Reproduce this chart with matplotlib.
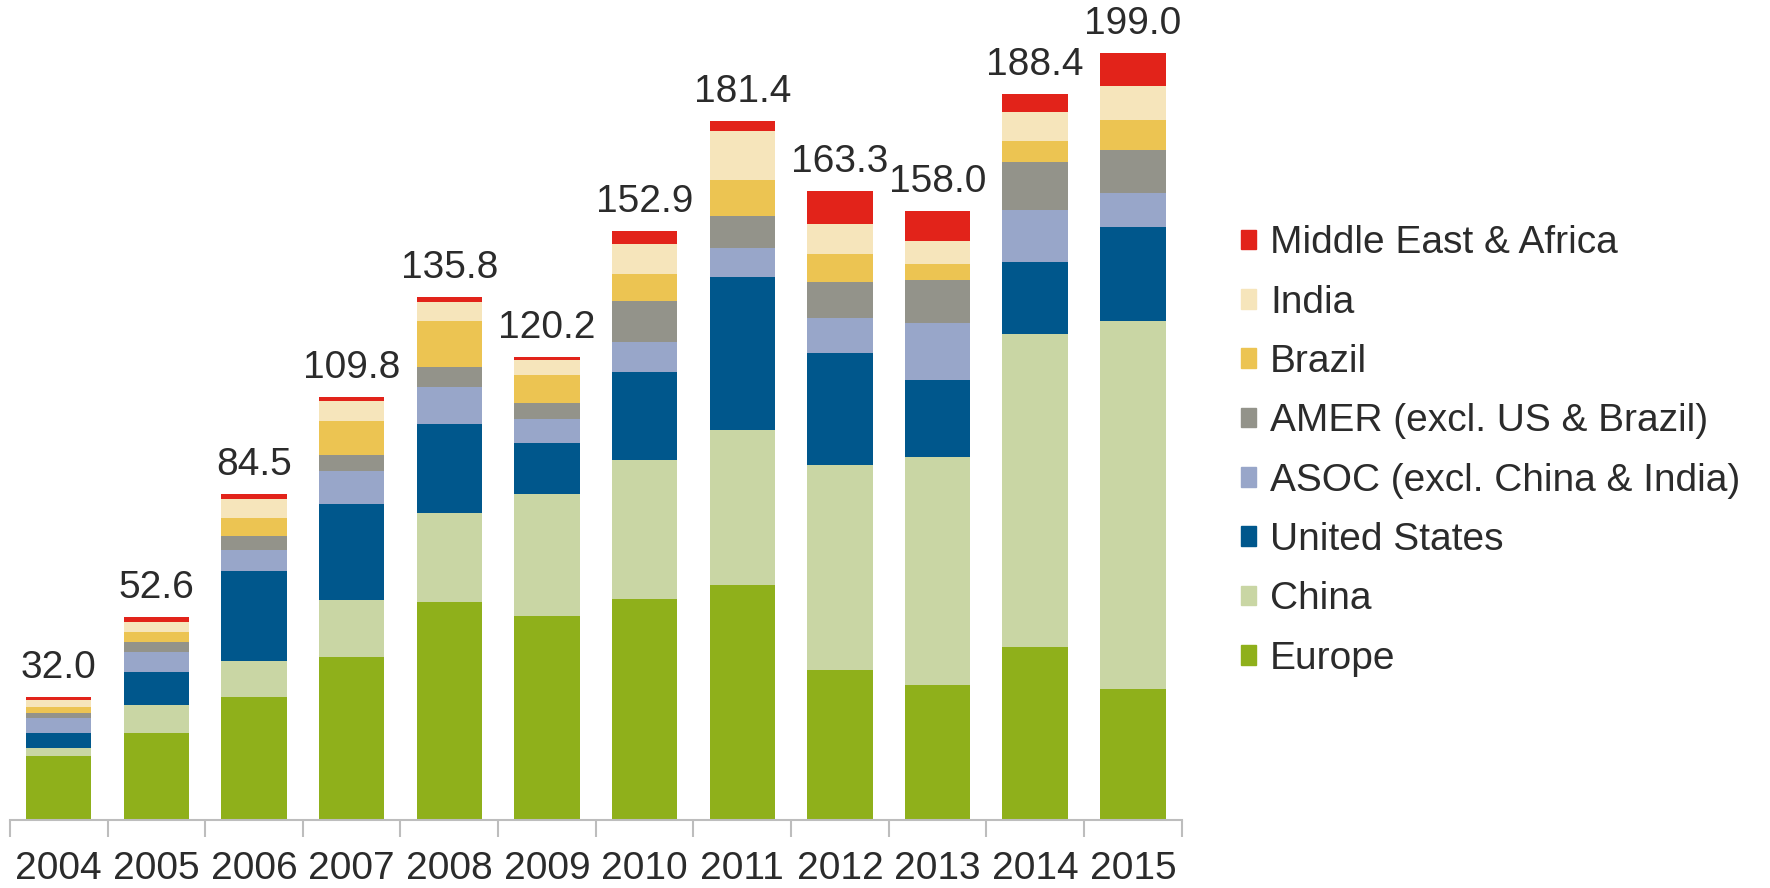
import numpy as np
import matplotlib.pyplot as plt
from matplotlib.patches import Patch

plt.rcParams['font.family'] = ['Liberation Sans', 'DejaVu Sans']

# values (stack order: bottom -> top)
years  = ['2004', '2005', '2006', '2007', '2008', '2009',
          '2010', '2011', '2012', '2013', '2014', '2015']
europe = [16.6, 22.5, 31.8, 42.4, 56.5, 53.0, 57.4, 61.1, 39.0, 35.1, 44.9, 33.9]
china  = [2.0, 7.4, 9.5, 14.6, 23.2, 31.7, 36.1, 40.2, 53.0, 59.2, 81.3, 95.7]
us     = [4.1, 8.6, 23.2, 25.1, 23.1, 13.2, 22.8, 39.6, 29.1, 19.8, 18.6, 24.3]
asoc   = [3.7, 5.2, 5.6, 8.4, 9.5, 6.2, 7.7, 7.6, 9.2, 14.8, 13.5, 8.8]
amer   = [1.3, 2.6, 3.5, 4.3, 5.2, 4.1, 10.8, 8.3, 9.3, 11.3, 12.5, 11.1]
brazil = [1.7, 2.6, 4.8, 8.7, 11.9, 7.4, 6.9, 9.2, 7.4, 4.1, 5.5, 7.8]
india  = [1.7, 2.6, 4.8, 5.2, 5.0, 3.7, 7.8, 12.9, 7.6, 5.9, 7.4, 8.8]
mea    = [0.9, 1.1, 1.3, 1.1, 1.4, 0.9, 3.4, 2.5, 8.7, 7.8, 4.7, 8.6]
totals = [32.0, 52.6, 84.5, 109.8, 135.8, 120.2, 152.9, 181.4, 163.3, 158.0, 188.4, 199.0]

series = [
    ('Europe', europe, '#8fb01b'),
    ('China', china, '#c9d6a4'),
    ('United States', us, '#00578c'),
    ('ASOC (excl. China & India)', asoc, '#98a6c9'),
    ('AMER (excl. US & Brazil)', amer, '#93938a'),
    ('Brazil', brazil, '#ecc452'),
    ('India', india, '#f6e5bb'),
    ('Middle East & Africa', mea, '#e2231a'),
]

txt = '#2b2b2b'
fig = plt.figure(figsize=(17.7, 8.88), dpi=100)
ax = fig.add_axes([0.0056, 0.0766, 0.662, 0.8896])

x = np.arange(len(years))
bottom = np.zeros(len(years))
for name, vals, col in series:
    ax.bar(x, vals, width=0.67, bottom=bottom, color=col, label=name)
    bottom += np.array(vals)

for xi, top, t in zip(x, bottom, totals):
    ax.annotate(f'{t:.1f}', (xi, top), xytext=(0, 8), textcoords='offset points',
                ha='center', va='bottom', fontsize=28, color=txt)

ax.set_xlim(-0.5, len(years) - 0.5)
ax.set_ylim(0, 205)
ax.set_yticks([])
ax.set_xticks(x)
ax.set_xticklabels(years, fontsize=28, color=txt)
ax.tick_params(axis='x', which='major', length=0, pad=22)
ax.set_xticks(np.arange(-0.5, len(years)), minor=True)
ax.tick_params(axis='x', which='minor', length=12, width=1.5, color='#bdbdbd')
for s in ['left', 'top', 'right']:
    ax.spines[s].set_visible(False)
ax.spines['bottom'].set_color('#bdbdbd')
ax.spines['bottom'].set_linewidth(1.5)

handles = [Patch(color=c, label=n) for n, v, c in series][::-1]
fig.legend(handles=handles, loc='upper left', bbox_to_anchor=(0.69, 0.768),
           frameon=False, fontsize=28, handlelength=0.4, handleheight=0.4,
           handletextpad=0.35, labelspacing=0.6, labelcolor=txt, borderpad=0)

fig.savefig('out.png', dpi=100, facecolor='white')
